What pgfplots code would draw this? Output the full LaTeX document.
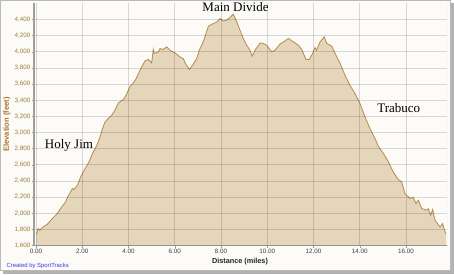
\documentclass[border=0pt]{standalone}
\usepackage{fontspec}
\setmainfont{Liberation Sans}
\newfontfamily\serif{Liberation Serif}
\usepackage{pgfplots}
\usepackage{pgfplotstable}
\pgfplotsset{compat=1.18}
\definecolor{bgc}{HTML}{FCFBF7}
\definecolor{fillc}{HTML}{E5D5BB}
\definecolor{linec}{HTML}{B38B4A}
\definecolor{ytickc}{HTML}{9E7B3F}
\definecolor{ylabc}{HTML}{A8742C}
\definecolor{sportc}{HTML}{3A3AF0}
\pgfplotstableread{
x y
0.00 1745
0.03 1752
0.09 1810
0.17 1790
0.27 1823
0.49 1864
0.71 1935
0.92 1997
1.06 2058
1.28 2140
1.35 2195
1.47 2252
1.57 2306
1.64 2294
1.79 2347
1.93 2450
2.08 2533
2.29 2636
2.44 2740
2.56 2802
2.69 2884
2.79 2967
2.85 3030
2.98 3131
3.12 3173
3.27 3214
3.41 3276
3.56 3367
3.78 3409
3.89 3462
4.07 3574
4.21 3615
4.33 3669
4.46 3751
4.57 3813
4.71 3887
4.85 3905
5.00 3862
5.07 4029
5.11 3979
5.29 3999
5.36 4041
5.50 4029
5.65 4061
5.83 4011
6.01 3986
6.22 3937
6.36 3917
6.48 3846
6.63 3781
6.77 3834
6.95 3917
7.06 4020
7.23 4123
7.45 4317
7.67 4351
7.82 4370
7.96 4412
8.09 4383
8.24 4391
8.38 4425
8.53 4466
8.68 4370
8.82 4267
8.96 4165
9.11 4082
9.25 4020
9.35 3945
9.47 4020
9.69 4111
9.82 4103
9.97 4082
10.19 3999
10.33 4020
10.55 4095
10.77 4136
10.91 4165
11.13 4123
11.34 4082
11.49 4029
11.67 3905
11.81 3905
11.96 3979
12.06 4053
12.13 4020
12.28 4123
12.46 4185
12.57 4103
12.79 4070
12.93 3979
13.15 3855
13.36 3710
13.57 3586
13.79 3483
14.01 3359
14.22 3195
14.44 3050
14.66 2925
14.80 2830
15.02 2740
15.24 2636
15.44 2512
15.66 2418
15.81 2388
15.95 2244
16.17 2182
16.31 2195
16.43 2120
16.53 2161
16.68 2058
16.89 2037
16.96 2058
17.06 1975
17.15 2046
17.25 1913
17.47 1830
17.58 1872
17.64 1810
17.73 1740
}\profile
\begin{document}
\begin{tikzpicture}
\begin{scope}[shift={(-34.2pt,-28.5pt)}, x=1pt, y=1pt]
\fill[gray!60] (3,0) rectangle (454,271);
\fill[bgc] (0,3.5) rectangle (450.5,274);
\draw[gray!55, line width=0.8pt] (0.4,3.9) rectangle (450.1,273.6);
\end{scope}
\begin{axis}[
  at={(0pt,0pt)}, anchor=south west,
  scale only axis, width=412.8pt, height=242.1pt,
  xmin=-0.08, xmax=17.77, ymin=1600, ymax=4600,
  xtick={0,2,...,16}, ytick={1600,1800,...,4400},
  axis background/.style={fill=bgc},
  grid=major,
  major grid style={draw=black, opacity=0.14, line width=0.8pt},
  axis on top,
  axis x line*=bottom, axis y line*=left,
  x axis line style={-, draw=gray!85, line width=1.6pt},
  y axis line style={-, draw=gray!75, line width=1.6pt},
  tick align=outside, major tick length=2.5pt,
  tick style={draw=gray!80, line width=0.5pt},
  /pgf/number format/assume math mode=true,
  xticklabel style={font=\fontsize{6.3}{7}\selectfont, text=black!75, inner sep=1pt},
  yticklabel style={font=\fontsize{6.3}{7}\selectfont, text=ytickc, inner sep=1pt},
  xticklabel={\pgfmathprintnumber[fixed, fixed zerofill, precision=2]{\tick}},
  yticklabel={\pgfmathprintnumber[fixed, 1000 sep={,}]{\tick}},
]
\addplot[fill=fillc, draw=none] table[x=x, y=y] {\profile} \closedcycle;
\addplot[draw=linec, line width=0.8pt] table[x=x, y=y] {\profile};
\draw[black, opacity=0.14, line width=0.8pt] (rel axis cs:1,0) -- (rel axis cs:1,1);
\end{axis}
\begin{scope}[shift={(-34.2pt,-28.5pt)}, x=1pt, y=1pt]
\node[rotate=90, text=ylabc, font=\fontsize{7.6}{9}\selectfont\bfseries] at (7,149.5) {Elevation (feet)};
\node[font=\fontsize{7.3}{9}\selectfont\bfseries, text=black!85] at (240,12) {Distance (miles)};
\node[anchor=west, inner sep=0pt, font=\fontsize{5.9}{7}\selectfont, text=sportc] at (6.5,8.5) {Created by SportTracks};
\node[anchor=base, inner sep=0pt, font=\fontsize{13}{15}\selectfont\serif] at (69,126) {Holy Jim};
\node[anchor=base, inner sep=0pt, font=\fontsize{13}{15}\selectfont\serif] at (235.5,262.5) {Main Divide};
\node[anchor=base, inner sep=0pt, font=\fontsize{13}{15}\selectfont\serif] at (398.7,161.3) {Trabuco};
\end{scope}
\pgfresetboundingbox
\path[use as bounding box] (-34.2pt,-28.5pt) rectangle (419.8pt,245.5pt);
\end{tikzpicture}
\end{document}
